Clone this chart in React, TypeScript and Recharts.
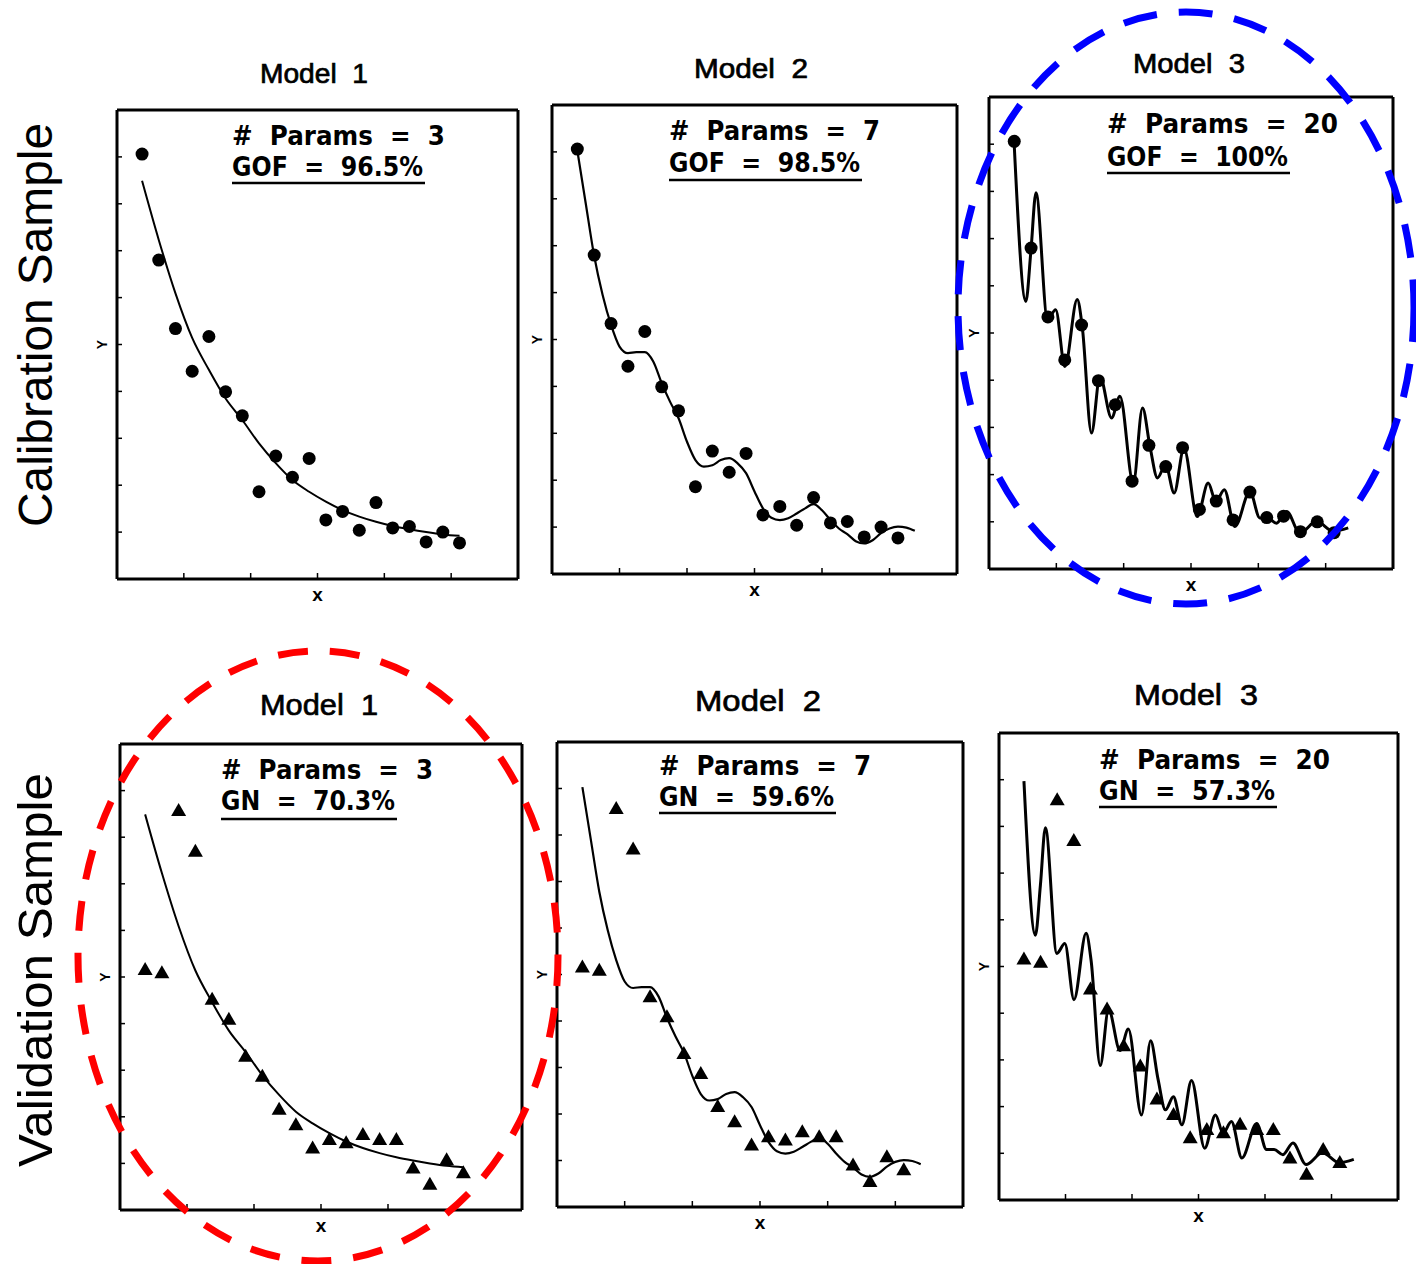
import React from "react";
import { ComposedChart, Line, Scatter, XAxis, YAxis } from "recharts";

// observation index (same 20 x positions in every panel)
const sampleX = [1, 2, 3, 4, 5, 6, 7, 8, 9, 10, 11, 12, 13, 14, 15, 16, 17, 18, 19, 20];

// calibration sample (dots) and validation sample (triangles)
const calibrationY = [90.6, 68.0, 53.4, 44.3, 51.7, 39.9, 34.8, 18.6, 26.2, 21.7, 25.7, 12.6, 14.4, 10.4, 16.3, 10.9, 11.2, 7.9, 10.0, 7.7];
const validationY = [51.5, 50.8, 85.6, 76.9, 45.1, 40.8, 32.9, 28.6, 21.5, 18.2, 13.2, 15.0, 14.3, 16.1, 15.0, 15.0, 8.9, 5.4, 10.7, 7.9];

// fitted curves
const model1Y = [84.9, 72.3, 60.9, 51.4, 44.6, 38.5, 33.9, 28.9, 24.7, 21.1, 18.6, 16.5, 14.7, 13.3, 12.2, 11.3, 10.6, 10.0, 9.5, 9.2];

const model2X = [1, 1.5, 2, 2.5, 3, 3.5, 4, 4.5, 5, 5.5, 6, 6.5, 7, 7.5, 8, 8.5, 9, 9.5, 10, 10.5, 11, 11.5, 12, 12.5, 13, 13.5, 14, 14.5, 15, 15.5, 16, 16.5, 17, 17.5, 18, 18.5, 19, 19.5, 20, 20.5, 21];
const model2Y = [90.3, 79.0, 67.8, 59.5, 53.1, 48.5, 47.1, 47.3, 47.3, 45.3, 40.7, 36.7, 33.2, 28.2, 24.3, 22.9, 23.2, 24.3, 24.7, 23.6, 21.5, 17.6, 14.0, 12.0, 11.5, 11.9, 12.9, 14.0, 14.9, 13.6, 11.5, 9.7, 8.5, 7.0, 6.5, 7.2, 8.7, 9.7, 10.1, 9.9, 9.2];

const model3X = [1, 1.69, 1.99, 2.29, 2.98, 3.46, 4.01, 4.74, 5.04, 5.59, 6.09, 6.78, 7.28, 8.07, 8.62, 9.06, 9.51, 9.99, 10.5, 11.08, 11.87, 12.52, 12.98, 13.48, 14.11, 15.0, 15.59, 16.05, 16.58, 17.18, 17.97, 18.96, 19.95, 20.84];
const model3Y = [89.7, 56.7, 67.4, 79.7, 52.8, 54.9, 42.9, 57.1, 51.3, 28.8, 40.8, 32.0, 36.6, 18.2, 34.1, 26.0, 19.3, 22.1, 16.1, 25.6, 11.1, 18.2, 14.3, 16.8, 9.0, 16.4, 10.8, 10.8, 9.7, 12.2, 7.6, 10.1, 8.0, 8.7];

const xTicks = [3.5, 7.5, 11.5, 15.5, 19.5];
const yTicks = [10, 20, 30, 40, 50, 60, 70, 80, 90];

const zip = (xs: number[], ys: number[]) => xs.map((x, i) => ({ x, y: ys[i] }));

const calibration = zip(sampleX, calibrationY);
const validation = zip(sampleX, validationY);
const fits = [
  { data: zip(sampleX, model1Y), width: 2 },
  { data: zip(model2X, model2Y), width: 2.2 },
  { data: zip(model3X, model3Y), width: 3 },
];

const Dot = (p: any) => <circle cx={p.cx} cy={p.cy} r={6.5} fill="#000" />;
const Tri = (p: any) => (
  <polygon
    points={`${p.cx},${p.cy - 8} ${p.cx - 7.5},${p.cy + 5} ${p.cx + 7.5},${p.cy + 5}`}
    fill="#000"
  />
);

const FONT = "'Liberation Sans', Arial, sans-serif";
const AXIS = { stroke: "#000", strokeWidth: 3 };
const TICK = { stroke: "#000", strokeWidth: 1.5 };
const blank = () => "";

type Box = { left: number; top: number; w: number; h: number };

const panels = [
  { box: { left: 117, top: 110, w: 401, h: 469 }, row: 0, model: 0 },
  { box: { left: 552, top: 105, w: 405, h: 469 }, row: 0, model: 1 },
  { box: { left: 989, top: 97, w: 404, h: 472 }, row: 0, model: 2 },
  { box: { left: 120, top: 744, w: 402, h: 466 }, row: 1, model: 0 },
  { box: { left: 557, top: 742, w: 406, h: 465 }, row: 1, model: 1 },
  { box: { left: 999, top: 733, w: 399, h: 467 }, row: 1, model: 2 },
];

const titles = [
  { text: "Model  1", x: 314, y: 83, w: 108, size: 27 },
  { text: "Model  2", x: 751, y: 78, w: 114, size: 27 },
  { text: "Model  3", x: 1189, y: 73, w: 112, size: 27 },
  { text: "Model  1", x: 319, y: 715, w: 118, size: 30 },
  { text: "Model  2", x: 758, y: 711, w: 126, size: 30 },
  { text: "Model  3", x: 1196, y: 705, w: 124, size: 30 },
];

const notes = [
  { l1: "#  Params  =  3", l2: "GOF  =  96.5%", x: 232, b1: 145, w1: 213, b2: 176, w2: 191, uy: 183 },
  { l1: "#  Params  =  7", l2: "GOF  =  98.5%", x: 669, b1: 140, w1: 211, b2: 172, w2: 191, uy: 180 },
  { l1: "#  Params  =  20", l2: "GOF  =  100%", x: 1107, b1: 133, w1: 231, b2: 166, w2: 181, uy: 173 },
  { l1: "#  Params  =  3", l2: "GN  =  70.3%", x: 221, b1: 779, w1: 212, b2: 810, w2: 174, uy: 819 },
  { l1: "#  Params  =  7", l2: "GN  =  59.6%", x: 659, b1: 775, w1: 212, b2: 806, w2: 175, uy: 813 },
  { l1: "#  Params  =  20", l2: "GN  =  57.3%", x: 1099, b1: 769, w1: 231, b2: 800, w2: 176, uy: 807 },
];

function Panel({ box, row, model }: { box: Box; row: number; model: number }) {
  const fit = fits[model];
  return (
    <div style={{ position: "absolute", left: box.left - 30, top: box.top - 10 }}>
      <ComposedChart
        width={box.w + 60}
        height={box.h + 40}
        margin={{ top: 0, right: 0, bottom: 0, left: 0 }}
      >
        <XAxis
          type="number"
          dataKey="x"
          domain={[-0.5, 23.5]}
          ticks={xTicks}
          interval={0}
          tickSize={-6}
          tickFormatter={blank}
          height={30}
          axisLine={AXIS}
          tickLine={TICK}
          label={{ value: "x", position: "center", fill: "#000", fontSize: 19, fontWeight: 700, fontFamily: FONT }}
        />
        <XAxis
          xAxisId="top"
          orientation="top"
          type="number"
          domain={[-0.5, 23.5]}
          ticks={xTicks}
          interval={0}
          tickSize={-5}
          tickFormatter={blank}
          height={10}
          axisLine={AXIS}
          tickLine={TICK}
        />
        <YAxis
          type="number"
          dataKey="y"
          domain={[0, 100]}
          ticks={yTicks}
          interval={0}
          tickSize={-5}
          tickFormatter={blank}
          width={30}
          axisLine={AXIS}
          tickLine={TICK}
          label={{ value: "Y", position: "center", angle: -90, fill: "#000", fontSize: 14, fontWeight: 700, fontFamily: FONT }}
        />
        <YAxis
          yAxisId="right"
          orientation="right"
          type="number"
          domain={[0, 100]}
          ticks={yTicks}
          interval={0}
          tickSize={-5}
          tickFormatter={blank}
          width={30}
          axisLine={AXIS}
          tickLine={TICK}
        />
        <Line
          data={fit.data}
          dataKey="y"
          type="monotone"
          stroke="#000"
          strokeWidth={fit.width}
          dot={false}
          activeDot={false}
          isAnimationActive={false}
        />
        <Scatter
          data={row === 0 ? calibration : validation}
          dataKey="y"
          shape={row === 0 ? Dot : Tri}
          isAnimationActive={false}
        />
      </ComposedChart>
    </div>
  );
}

export default function App() {
  return (
    <div
      style={{
        position: "absolute",
        left: 0,
        top: 0,
        width: 1416,
        height: 1264,
        background: "#fff",
        overflow: "hidden",
      }}
    >
      {panels.map((p, i) => (
        <Panel key={i} box={p.box} row={p.row} model={p.model} />
      ))}
      <svg
        width={1416}
        height={1264}
        style={{ position: "absolute", left: 0, top: 0, pointerEvents: "none" }}
      >
        <text
          transform="translate(52,325) rotate(-90)"
          textAnchor="middle"
          fontFamily={FONT}
          fontSize={48}
          textLength={404}
          lengthAdjust="spacingAndGlyphs"
          fill="#000"
        >
          Calibration Sample
        </text>
        <text
          transform="translate(52,970) rotate(-90)"
          textAnchor="middle"
          fontFamily={FONT}
          fontSize={48}
          textLength={394}
          lengthAdjust="spacingAndGlyphs"
          fill="#000"
        >
          Validation Sample
        </text>
        {titles.map((t, i) => (
          <text
            key={i}
            x={t.x}
            y={t.y}
            textAnchor="middle"
            fontFamily={FONT}
            fontSize={t.size}
            textLength={t.w}
            lengthAdjust="spacingAndGlyphs"
            fill="#000"
            stroke="#000"
            strokeWidth={0.7}
            style={{ whiteSpace: "pre" }}
          >
            {t.text}
          </text>
        ))}
        {notes.map((n, i) => (
          <g key={i} fontFamily="'DejaVu Sans', sans-serif" fontWeight={700} fontSize={27} fill="#000">
            <text x={n.x} y={n.b1} textLength={n.w1} lengthAdjust="spacingAndGlyphs" style={{ whiteSpace: "pre" }}>
              {n.l1}
            </text>
            <text x={n.x} y={n.b2} textLength={n.w2} lengthAdjust="spacingAndGlyphs" style={{ whiteSpace: "pre" }}>
              {n.l2}
            </text>
            <line x1={n.x} x2={n.x + n.w2 + 2} y1={n.uy} y2={n.uy} stroke="#000" strokeWidth={2.5} />
          </g>
        ))}
        <ellipse
          cx={1186}
          cy={308}
          rx={228}
          ry={296}
          fill="none"
          stroke="#0000ff"
          strokeWidth={7}
          strokeDasharray="34 22"
        />
        <ellipse
          cx={318}
          cy={956}
          rx={240}
          ry={305}
          fill="none"
          stroke="#ff0000"
          strokeWidth={7}
          strokeDasharray="30 22"
        />
      </svg>
    </div>
  );
}
